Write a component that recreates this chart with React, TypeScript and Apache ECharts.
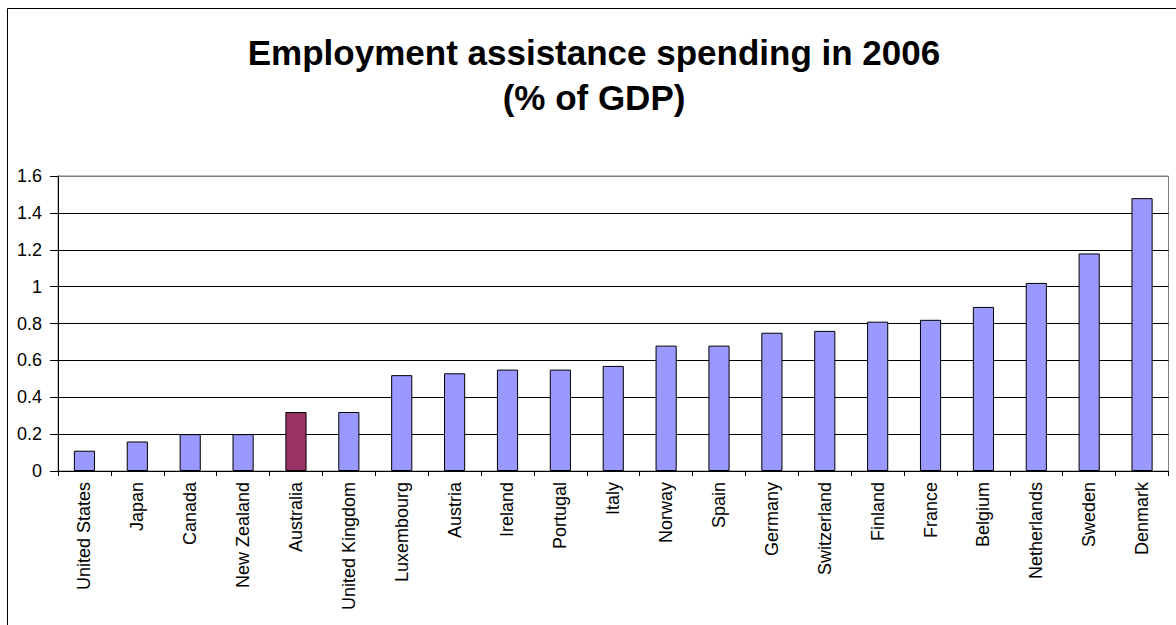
import React, { useEffect, useRef } from "react";
import * as echarts from "echarts";

const countries = [
  "United States", "Japan", "Canada", "New Zealand", "Australia", "United Kingdom",
  "Luxembourg", "Austria", "Ireland", "Portugal", "Italy", "Norway", "Spain",
  "Germany", "Switzerland", "Finland", "France", "Belgium", "Netherlands", "Sweden", "Denmark",
];
const spending = [
  0.11, 0.16, 0.2, 0.2, 0.32, 0.32, 0.52, 0.53, 0.55, 0.55, 0.57, 0.68, 0.68,
  0.75, 0.76, 0.81, 0.82, 0.89, 1.02, 1.18, 1.48,
];
const highlighted = "Australia";
const titleText = "Employment assistance spending in 2006\n(% of GDP)";

export default function App() {
  const ref = useRef<HTMLDivElement>(null);
  useEffect(() => {
    if (!ref.current) return;
    const chart = echarts.init(ref.current, undefined, { renderer: "svg" });
    const font = "Arial, 'Liberation Sans', Helvetica, sans-serif";
    chart.setOption({
      animation: false,
      backgroundColor: "#fff",
      title: {
        text: titleText,
        left: 594,
        top: 30,
        padding: 0,
        textAlign: "center",
        textStyle: {
          fontFamily: font,
          fontSize: 35,
          fontWeight: "bold",
          color: "#000",
          lineHeight: 45,
        },
      },
      graphic: [
        {
          type: "rect",
          shape: { x: 7.5, y: 8.5, width: 3000, height: 3000 },
          style: { fill: "none", stroke: "#000", lineWidth: 1 },
          silent: true,
        },
      ],
      grid: {
        left: 58,
        right: 7.5,
        top: 176,
        bottom: 154,
        show: true,
        borderColor: "#808080",
        borderWidth: 1,
        backgroundColor: "transparent",
      },
      xAxis: {
        type: "category",
        data: countries,
        axisLine: { lineStyle: { color: "#000", width: 1 } },
        axisTick: { show: true, length: 5, lineStyle: { color: "#000" } },
        axisLabel: {
          rotate: 90,
          interval: 0,
          margin: 11,
          fontFamily: font,
          fontSize: 18,
          color: "#000",
        },
      },
      yAxis: {
        type: "value",
        min: 0,
        max: 1.6,
        interval: 0.2,
        axisLine: { show: true, lineStyle: { color: "#000", width: 1 } },
        axisTick: { show: true, length: 8, lineStyle: { color: "#000" } },
        axisLabel: {
          margin: 16,
          fontFamily: font,
          fontSize: 18,
          color: "#000",
          formatter: (v: number) => String(Math.round(v * 10) / 10),
        },
        splitLine: {
          show: true,
          lineStyle: {
            color: ["#000", "#000", "#000", "#000", "#000", "#000", "#000", "#000", "#808080"],
            width: 1,
          },
        },
      },
      series: [
        {
          type: "bar",
          barWidth: "40%",
          data: countries.map((c, i) => ({
            value: spending[i],
            itemStyle: {
              color: c === highlighted ? "#993366" : "#9999FF",
              borderColor: "#000",
              borderWidth: 1,
            },
          })),
        },
      ],
    });
    return () => chart.dispose();
  }, []);
  return (
    <div
      ref={ref}
      style={{ position: "fixed", left: 0, top: 0, width: 1176, height: 625 }}
    />
  );
}
